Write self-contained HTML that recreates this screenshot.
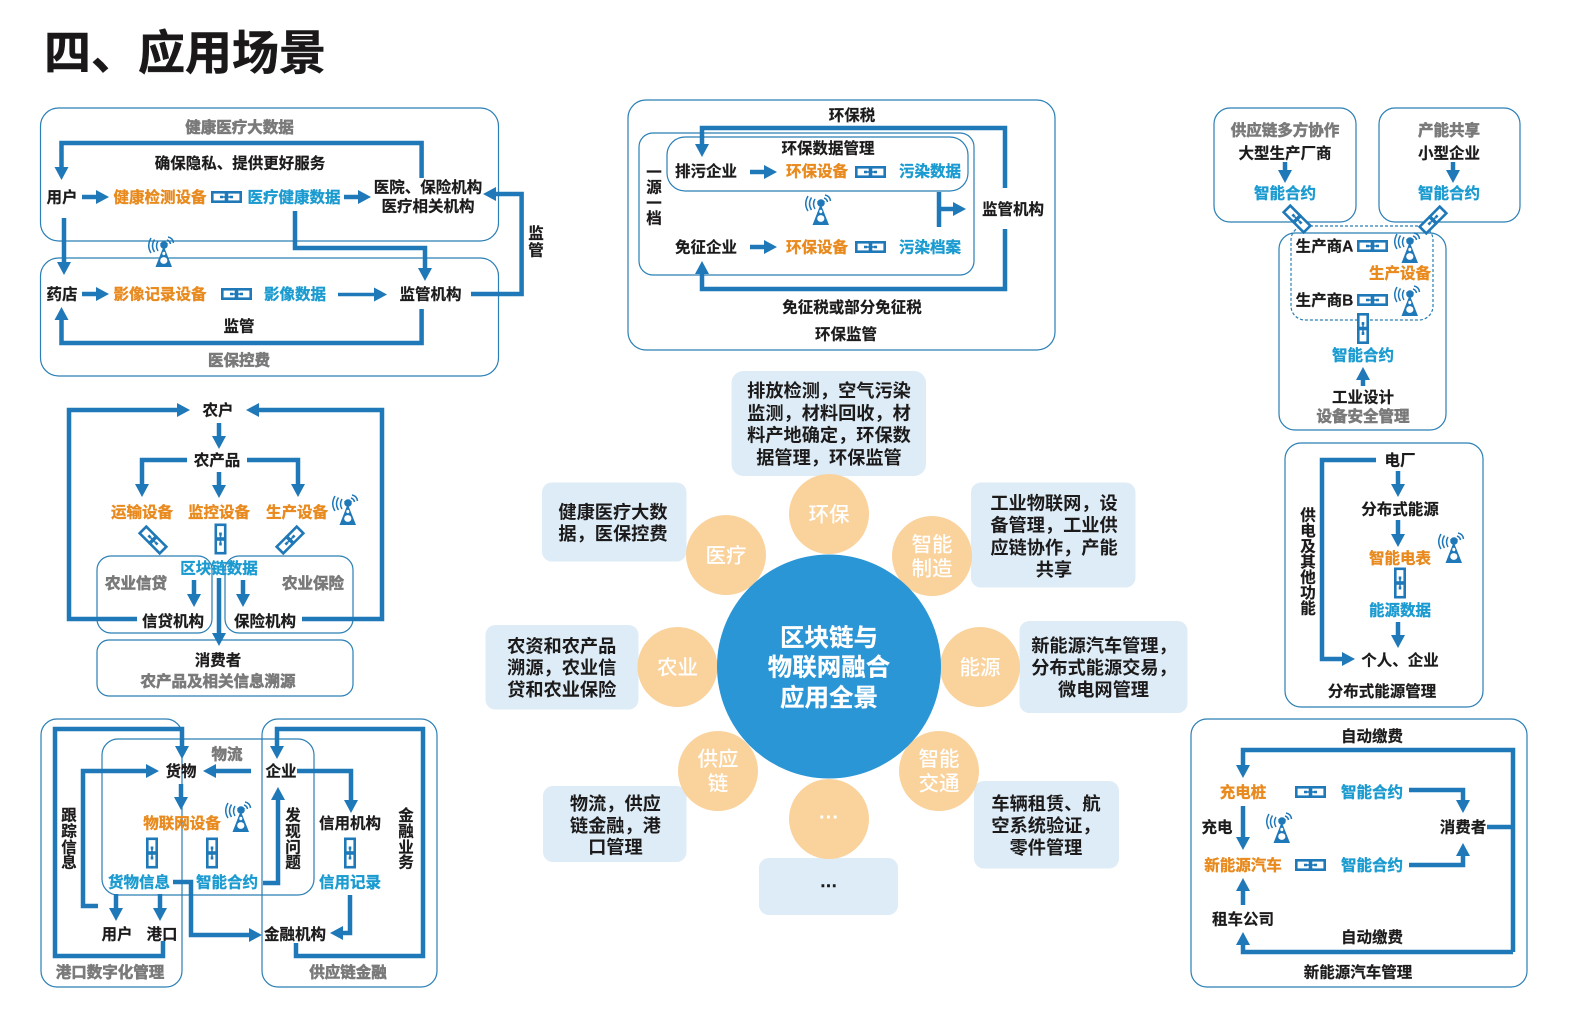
<!DOCTYPE html>
<html lang="zh-CN">
<head>
<meta charset="utf-8">
<title>四、应用场景</title>
<style>
html,body{margin:0;padding:0;background:#fff;}
svg{display:block;}
text{font-family:"Liberation Sans","Noto Sans CJK SC",sans-serif;text-anchor:middle;dominant-baseline:central;font-weight:700;font-size:15.5px;fill:#1c1a1a;stroke:#1c1a1a;stroke-width:.2px;transform:translateY(1px);}
.o{fill:#e88a1e;stroke:#e88a1e;stroke-width:.35px;}
.c{fill:#1b9bd0;stroke:#1b9bd0;stroke-width:.35px;}
.g{fill:#7a7a7a;stroke:#7a7a7a;stroke-width:.6px;}
.p{fill:#fff;stroke:none;font-size:20.5px;font-weight:500;}
.m{fill:#fff;stroke:#fff;stroke-width:.2px;font-size:24.5px;}
.b{font-size:18.2px;font-weight:700;stroke:none;}
.box{fill:none;stroke:#2a7fb5;stroke-width:1.2;}
.a{fill:none;stroke:#1f78b8;stroke-width:4.5;stroke-linejoin:miter;marker-end:url(#h);}
.n{fill:none;stroke:#1f78b8;stroke-width:4.5;}
.lb{fill:#ddecf6;}
.pt{fill:#fad29c;}
</style>
</head>
<body>
<svg width="1587" height="1019" viewBox="0 0 1587 1019" xmlns="http://www.w3.org/2000/svg">
<defs>
<marker id="h" markerUnits="userSpaceOnUse" markerWidth="13" markerHeight="14" viewBox="0 0 13 14" refX="1" refY="7" orient="auto">
<path d="M0 0L13 7L0 14Z" fill="#1f78b8"/>
</marker>
<symbol id="link" width="31" height="12" viewBox="0 0 31 12" overflow="visible">
<rect x="1.3" y="1.3" width="13.7" height="9.4" fill="#fff" stroke="#1f78b8" stroke-width="2.6"/>
<rect x="16" y="1.3" width="13.7" height="9.4" fill="#fff" stroke="#1f78b8" stroke-width="2.6"/>
<path d="M9 6H12M19 6H22" stroke="#1f78b8" stroke-width="2.6"/>
<path d="M12 6H19" stroke="#1f78b8" stroke-width="1.6"/>
</symbol>
<symbol id="tower" width="28" height="32" viewBox="0 0 28 32" overflow="visible">
<path d="M17.7 11L9.5 32H26Z" fill="#1f78b8"/>
<ellipse cx="17.8" cy="25.5" rx="3.6" ry="3.4" fill="#fff"/>
<ellipse cx="17.8" cy="18.5" rx="1.5" ry="1.8" fill="#fff"/>
<path d="M14 8H22L18 14Z" fill="#1f78b8"/>
<circle cx="18" cy="10" r="3.8" fill="#1f78b8"/>
<path d="M12 6Q9 11 12 16M8.5 4.5Q4.5 11 8.5 17M5 3Q.5 11 5 18M21 5Q24 6 24.5 9M22 2Q27 3 27.5 8" fill="none" stroke="#1f78b8" stroke-width="1.5"/>
</symbol>
</defs>

<!-- Title -->
<text x="44" y="53" style="text-anchor:start;font-size:47px;font-weight:700;stroke-width:.5px;fill:#1a1818;transform:none">四、应用场景</text>

<!-- Healthcare -->
<rect class="box" x="40.5" y="108" width="458" height="133" rx="18"/>
<rect class="box" x="40.5" y="258" width="458" height="118" rx="18"/>
<text class="g" x="239.5" y="127">健康医疗大数据</text>
<path class="a" d="M421.6 178V143H61.5V168"/>
<text x="240" y="163">确保隐私、提供更好服务</text>
<text x="62" y="197">用户</text>
<path class="a" d="M82 197H97"/>
<text class="o" x="160" y="197">健康检测设备</text>
<use href="#link" x="211" y="191"/>
<text class="c" x="294" y="197">医疗健康数据</text>
<path class="a" d="M344 197H359"/>
<text x="428" y="187">医院、保险机构</text>
<text x="428" y="206">医疗相关机构</text>
<path class="a" d="M471 294H521.6V194H495"/>
<text x="536" y="233">监</text>
<text x="536" y="250">管</text>
<path class="a" d="M64 218V263"/>
<use href="#tower" x="146" y="235"/>
<path class="a" d="M295 211V248H425V269"/>
<text x="62" y="294">药店</text>
<path class="a" d="M82 294H97"/>
<text class="o" x="160" y="294">影像记录设备</text>
<use href="#link" x="221" y="288"/>
<text class="c" x="295" y="294">影像数据</text>
<path class="a" style="stroke-width:3.5" d="M338 294.5H375"/>
<text x="430.5" y="294">监管机构</text>
<path class="a" d="M421.6 309V343H61.5V319"/>
<text x="239" y="326">监管</text>
<text class="g" x="239" y="360">医保控费</text>

<!-- Environment -->
<rect class="box" x="628" y="100" width="427" height="250" rx="18"/>
<rect class="box" x="639" y="133" width="335" height="142" rx="14"/>
<rect class="box" x="667" y="137" width="301" height="54" rx="18"/>
<text x="852" y="115">环保税</text>
<path class="a" d="M1005 188V128H702V145"/>
<text x="828" y="148">环保数据管理</text>
<text x="706" y="171">排污企业</text>
<path class="a" d="M750 172H765"/>
<text class="o" x="817" y="171">环保设备</text>
<use href="#link" x="855" y="166"/>
<text class="c" x="930" y="171">污染数据</text>
<text x="654" y="172">一</text>
<text x="654" y="187">源</text>
<text x="654" y="203">一</text>
<text x="654" y="218">档</text>
<use href="#tower" x="803" y="193"/>
<path class="n" d="M939 192V227"/>
<path class="a" d="M939 209H954"/>
<text x="1013" y="209">监管机构</text>
<text x="706" y="247">免征企业</text>
<path class="a" d="M750 247H765"/>
<text class="o" x="817" y="247">环保设备</text>
<use href="#link" x="855" y="241"/>
<text class="c" x="930" y="247">污染档案</text>
<path class="a" d="M1005 229V289H702V273"/>
<text x="852" y="307">免征税或部分免征税</text>
<text x="846" y="334">环保监管</text>

<!-- Manufacturing -->
<rect class="box" x="1214" y="108" width="142" height="114" rx="16"/>
<rect class="box" x="1379" y="108" width="141" height="114" rx="16"/>
<rect class="box" x="1279" y="233" width="167" height="197" rx="16"/>
<rect class="box" x="1291" y="226" width="142" height="94" rx="14" stroke-dasharray="3 2"/>
<text class="g" x="1285" y="130">供应链多方协作</text>
<text x="1285" y="153">大型生产厂商</text>
<path class="a" d="M1285 162V171"/>
<text class="c" x="1285" y="193">智能合约</text>
<text class="g" x="1449" y="130">产能共享</text>
<text x="1449" y="153">小型企业</text>
<path class="a" d="M1453 162V171"/>
<text class="c" x="1449" y="193">智能合约</text>
<use href="#link" transform="translate(1297 219) rotate(45) translate(-15.5 -6)"/>
<use href="#link" transform="translate(1433 220) rotate(-45) translate(-15.5 -6)"/>
<text x="1324.5" y="246">生产商A</text>
<use href="#link" x="1357" y="240"/>
<use href="#tower" x="1392" y="231"/>
<text class="o" x="1400" y="273">生产设备</text>
<text x="1324.5" y="300">生产商B</text>
<use href="#link" x="1357" y="294"/>
<use href="#tower" x="1392" y="284"/>
<use href="#link" transform="translate(1363 328.5) rotate(90) translate(-15.5 -6)"/>
<text class="c" x="1363" y="355">智能合约</text>
<path class="a" d="M1363 386V379"/>
<text x="1363" y="397">工业设计</text>
<text class="g" x="1363" y="416">设备安全管理</text>

<!-- Agriculture -->
<rect class="box" x="97" y="556" width="115" height="77" rx="14"/>
<rect class="box" x="225" y="556" width="128" height="77" rx="14"/>
<rect class="box" x="97" y="640" width="256" height="56" rx="12"/>
<path class="a" d="M137 619H69V410H178"/>
<path class="a" d="M302 619H382V410H258"/>
<text x="218" y="410">农户</text>
<path class="a" d="M219 423V437"/>
<text x="217" y="460">农产品</text>
<path class="a" d="M187 460H142V485"/>
<path class="a" d="M219 472V486"/>
<path class="a" d="M247 460H298V485"/>
<text class="o" x="142" y="512">运输设备</text>
<text class="o" x="219" y="512">监控设备</text>
<text class="o" x="297" y="512">生产设备</text>
<use href="#tower" x="330" y="493"/>
<use href="#link" transform="translate(153 540) rotate(45) translate(-15.5 -6)"/>
<use href="#link" transform="translate(220.5 539) rotate(90) translate(-15.5 -6)"/>
<use href="#link" transform="translate(290 540) rotate(-45) translate(-15.5 -6)"/>
<text class="c" x="219" y="568">区块链数据</text>
<text class="g" x="136" y="583">农业信贷</text>
<text class="g" x="313" y="583">农业保险</text>
<path class="a" d="M194 580V595"/>
<path class="a" d="M243 580V595"/>
<path class="a" d="M219 578V634"/>
<text x="173" y="621">信贷机构</text>
<text x="265" y="621">保险机构</text>
<text x="218" y="660">消费者</text>
<text class="g" x="218" y="681">农产品及相关信息溯源</text>

<!-- Supply chain -->
<rect class="box" x="41" y="719" width="141" height="268" rx="16"/>
<rect class="box" x="102" y="739" width="212" height="156" rx="16"/>
<rect class="box" x="262" y="719" width="175" height="268" rx="16"/>
<path class="a" d="M163 941V956H55V729H182V747"/>
<path class="a" d="M98 906H83V771H147"/>
<path class="a" d="M251 771H215"/>
<text x="181" y="771">货物</text>
<text class="g" x="227" y="754">物流</text>
<text x="281" y="771">企业</text>
<path class="a" d="M181 784V798"/>
<text x="69" y="815">跟</text>
<text x="69" y="831">踪</text>
<text x="69" y="847">信</text>
<text x="69" y="862">息</text>
<text class="o" x="182" y="823">物联网设备</text>
<use href="#tower" x="223" y="800"/>
<use href="#link" transform="translate(152 853) rotate(90) translate(-15.5 -6)"/>
<use href="#link" transform="translate(212 853) rotate(90) translate(-15.5 -6)"/>
<use href="#link" transform="translate(350 853) rotate(90) translate(-15.5 -6)"/>
<text class="c" x="139" y="882">货物信息</text>
<text class="c" x="227" y="882">智能合约</text>
<text class="c" x="350" y="882">信用记录</text>
<path class="a" d="M263 883H278V799"/>
<text x="293" y="815">发</text>
<text x="293" y="831">现</text>
<text x="293" y="847">问</text>
<text x="293" y="862">题</text>
<path class="a" d="M297 771H351V801"/>
<text x="350" y="823">信用机构</text>
<text x="406" y="815">金</text>
<text x="406" y="831">融</text>
<text x="406" y="847">业</text>
<text x="406" y="862">务</text>
<path class="a" d="M296 943V956H423V729H277V747"/>
<path class="a" d="M173 882H191V935H250"/>
<path class="a" d="M350 895V933H342"/>
<text x="295" y="934">金融机构</text>
<text x="117" y="934">用户</text>
<text x="162" y="934">港口</text>
<path class="a" d="M116 894V909"/>
<path class="a" d="M160 894V909"/>
<text class="g" x="110" y="972">港口数字化管理</text>
<text class="g" x="348" y="972">供应链金融</text>

<!-- Energy -->
<rect class="box" x="1285" y="443" width="198" height="264" rx="16"/>
<text x="1400" y="460">电厂</text>
<path class="a" d="M1376 460H1322V659H1343"/>
<path class="a" d="M1398 471V485"/>
<text x="1400" y="509">分布式能源</text>
<path class="a" d="M1398 520V535"/>
<text class="o" x="1400" y="558">智能电表</text>
<use href="#tower" x="1436" y="531"/>
<use href="#link" transform="translate(1400 583) rotate(90) translate(-15.5 -6)"/>
<text class="c" x="1400" y="610">能源数据</text>
<path class="a" d="M1398 622V636"/>
<text x="1400" y="660">个人、企业</text>
<text x="1308" y="515">供</text>
<text x="1308" y="530.5">电</text>
<text x="1308" y="546">及</text>
<text x="1308" y="561.5">其</text>
<text x="1308" y="577">他</text>
<text x="1308" y="592.5">功</text>
<text x="1308" y="608">能</text>
<text x="1382" y="691">分布式能源管理</text>

<!-- New energy vehicles -->
<rect class="box" x="1191" y="719" width="336" height="268" rx="16"/>
<text x="1372" y="736">自动缴费</text>
<path class="a" d="M1513 952V750H1243V766"/>
<path class="a" d="M1513 952H1243V944"/>
<path class="n" d="M1487 827H1513"/>
<text class="o" x="1243" y="792">充电桩</text>
<use href="#link" x="1295" y="786"/>
<text class="c" x="1372" y="792">智能合约</text>
<path class="a" d="M1409 790H1463V801"/>
<path class="a" d="M1243 806V838"/>
<text x="1217" y="827">充电</text>
<use href="#tower" x="1264" y="811"/>
<text x="1463" y="827">消费者</text>
<text class="o" x="1243" y="865">新能源汽车</text>
<use href="#link" x="1295" y="859"/>
<text class="c" x="1372" y="865">智能合约</text>
<path class="a" d="M1409 865H1463V855"/>
<path class="a" d="M1243 905V890"/>
<text x="1243" y="919">租车公司</text>
<text x="1372" y="937">自动缴费</text>
<text x="1358" y="972">新能源汽车管理</text>

<!-- Centre -->
<rect class="lb" x="731.5" y="371" width="194.5" height="105" rx="12"/>
<rect class="lb" x="542" y="482.5" width="144.5" height="79" rx="10"/>
<rect class="lb" x="971" y="482.5" width="164.5" height="105" rx="10"/>
<rect class="lb" x="485.5" y="625" width="153" height="84.5" rx="10"/>
<rect class="lb" x="1019.5" y="621" width="168" height="92" rx="10"/>
<rect class="lb" x="543" y="786" width="143.5" height="76" rx="10"/>
<rect class="lb" x="974" y="781" width="145" height="87.5" rx="10"/>
<rect class="lb" x="759" y="858" width="139" height="57" rx="10"/>

<circle class="pt" cx="829" cy="514" r="40"/>
<circle class="pt" cx="726" cy="555" r="40"/>
<circle class="pt" cx="932" cy="556" r="40"/>
<circle class="pt" cx="677.5" cy="667" r="40"/>
<circle class="pt" cx="980" cy="667" r="40"/>
<circle class="pt" cx="718" cy="771" r="40"/>
<circle class="pt" cx="939" cy="771" r="40"/>
<circle class="pt" cx="829" cy="819" r="40"/>
<circle cx="829" cy="666.5" r="112" fill="#2b96d6"/>

<text class="m" x="829" y="637.5">区块链与</text>
<text class="m" x="829" y="667">物联网融合</text>
<text class="m" x="829" y="697.5">应用全景</text>

<text class="p" x="829" y="514">环保</text>
<text class="p" x="726" y="555">医疗</text>
<text class="p" x="932" y="544">智能</text>
<text class="p" x="932" y="568">制造</text>
<text class="p" x="677.5" y="667">农业</text>
<text class="p" x="980" y="667">能源</text>
<text class="p" x="718" y="758.5">供应</text>
<text class="p" x="718" y="783">链</text>
<text class="p" x="939" y="758.5">智能</text>
<text class="p" x="939" y="783">交通</text>
<text class="p" x="829" y="817" style="font-size:20px;font-weight:700">···</text>

<text class="b" x="829" y="390">排放检测，空气污染</text>
<text class="b" x="829" y="412.5">监测，材料回收，材</text>
<text class="b" x="829" y="434.7">料产地确定，环保数</text>
<text class="b" x="829" y="457">据管理，环保监管</text>

<text class="b" x="613" y="511.7">健康医疗大数</text>
<text class="b" x="613" y="532.8">据，医保控费</text>

<text class="b" x="1054" y="502.4">工业物联网，设</text>
<text class="b" x="1054" y="524.6">备管理，工业供</text>
<text class="b" x="1054" y="546.8">应链协作，产能</text>
<text class="b" x="1054" y="569">共享</text>

<text class="b" x="561.7" y="645.6">农资和农产品</text>
<text class="b" x="561.7" y="667">溯源，农业信</text>
<text class="b" x="561.7" y="689">贷和农业保险</text>

<text class="b" x="1104" y="645">新能源汽车管理，</text>
<text class="b" x="1104" y="667">分布式能源交易，</text>
<text class="b" x="1103.5" y="689">微电网管理</text>

<text class="b" x="615.4" y="803">物流，供应</text>
<text class="b" x="615.4" y="825">链金融，港</text>
<text class="b" x="615.4" y="846.5">口管理</text>

<text class="b" x="1046" y="803">车辆租赁、航</text>
<text class="b" x="1046" y="825">空系统验证，</text>
<text class="b" x="1046" y="847">零件管理</text>

<text class="b" x="829" y="885" style="font-size:17px;stroke:#1c1a1a;stroke-width:.4px">···</text>
</svg>
</body>
</html>
